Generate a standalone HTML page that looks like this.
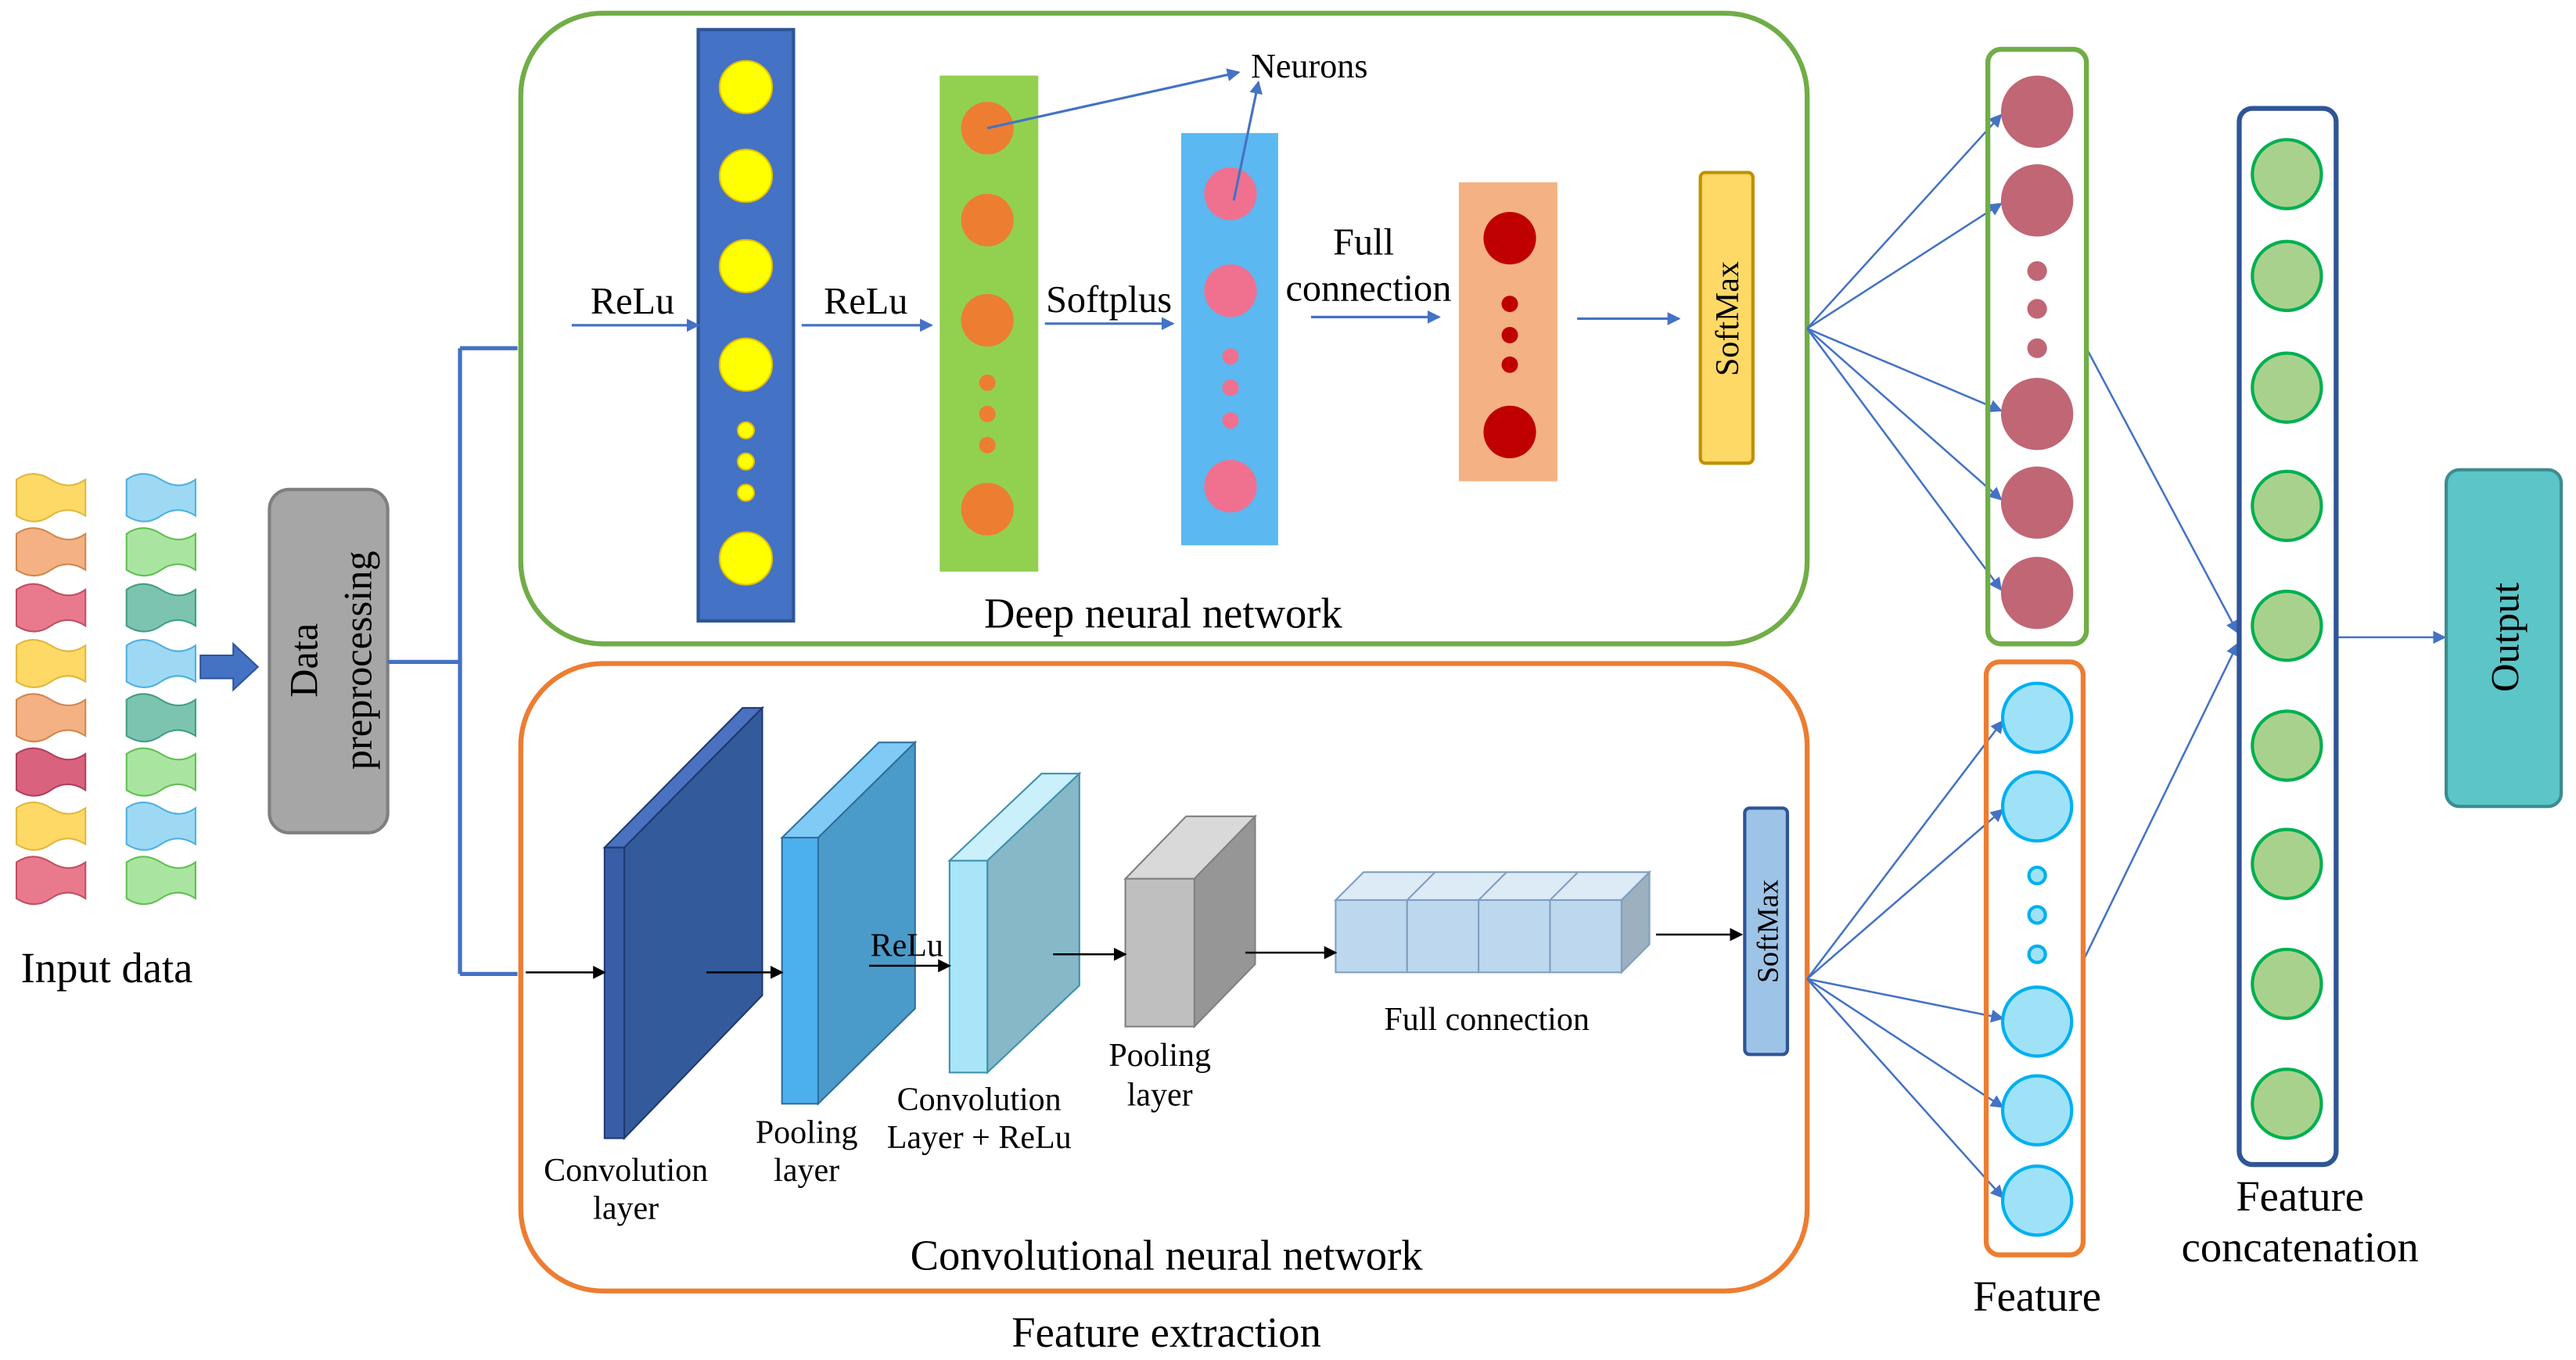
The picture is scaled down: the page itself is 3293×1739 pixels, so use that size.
<!DOCTYPE html>
<html><head><meta charset="utf-8"><style>html,body{margin:0;padding:0;background:#fff}svg{display:block}text{font-family:"Liberation Serif",serif;fill:#000}</style></head>
<body>
<svg width="3293" height="1739" viewBox="0 0 1568 828" xmlns="http://www.w3.org/2000/svg">
<defs>
<marker id="ab" markerWidth="8" markerHeight="8" refX="7" refY="4" orient="auto" markerUnits="userSpaceOnUse"><path d="M0,0 L8,4 L0,8 z" fill="#4472C4"/></marker>
<marker id="ak" markerWidth="8" markerHeight="8" refX="7" refY="4" orient="auto" markerUnits="userSpaceOnUse"><path d="M0,0 L8,4 L0,8 z" fill="#000"/></marker>
<path id="flag" d="M0,4 Q10,-3 21,4 T42,4 L42,26 Q31,19 21,26 T0,26 Z"/>
</defs>
<g stroke-width="1">
<use href="#flag" x="10" y="288" fill="#FFD966" stroke="#E0B840"/>
<use href="#flag" x="10" y="321" fill="#F4B183" stroke="#D08850"/>
<use href="#flag" x="10" y="355" fill="#E97A8E" stroke="#C05060"/>
<use href="#flag" x="10" y="389" fill="#FFD966" stroke="#E0B840"/>
<use href="#flag" x="10" y="422" fill="#F4B183" stroke="#D08850"/>
<use href="#flag" x="10" y="455" fill="#D9637E" stroke="#B04060"/>
<use href="#flag" x="10" y="488" fill="#FFD966" stroke="#E0B840"/>
<use href="#flag" x="10" y="521" fill="#E97A8E" stroke="#C05060"/>
<use href="#flag" x="77" y="288" fill="#9DD9F3" stroke="#50B0E0"/>
<use href="#flag" x="77" y="321" fill="#A9E5A0" stroke="#60C050"/>
<use href="#flag" x="77" y="355" fill="#7DC4B0" stroke="#40A080"/>
<use href="#flag" x="77" y="389" fill="#9DD9F3" stroke="#50B0E0"/>
<use href="#flag" x="77" y="422" fill="#7DC4B0" stroke="#40A080"/>
<use href="#flag" x="77" y="455" fill="#A9E5A0" stroke="#60C050"/>
<use href="#flag" x="77" y="488" fill="#9DD9F3" stroke="#50B0E0"/>
<use href="#flag" x="77" y="521" fill="#A9E5A0" stroke="#60C050"/>
</g>
<text x="65" y="598" font-size="26" text-anchor="middle">Input data</text>
<path d="M122,399 L142,399 L142,392 L157,406 L142,420 L142,413 L122,413 Z" fill="#4472C4" stroke="#2F5597"/>
<rect x="164" y="298" width="72" height="209" rx="12" fill="#A6A6A6" stroke="#7F7F7F" stroke-width="2"/>
<text transform="translate(193,402) rotate(-90)" font-size="24" text-anchor="middle">Data</text>
<text transform="translate(226,402) rotate(-90)" font-size="24" text-anchor="middle">preprocessing</text>
<path d="M236,403 H280 M280,212 V593 M280,212 H315 M280,593 H315" stroke="#4472C4" stroke-width="2.5" fill="none"/>
<rect x="317" y="8" width="783" height="384" rx="50" fill="none" stroke="#70AD47" stroke-width="3"/>
<rect x="425" y="18" width="58" height="360" fill="#4472C4" stroke="#2F5597" stroke-width="2"/>
<g fill="#FFFF00" stroke="#E0C000"><circle cx="454" cy="53" r="16"/><circle cx="454" cy="107" r="16"/><circle cx="454" cy="162" r="16"/><circle cx="454" cy="222" r="16"/><circle cx="454" cy="340" r="16"/><circle cx="454" cy="262" r="5"/><circle cx="454" cy="281" r="5"/><circle cx="454" cy="300" r="5"/></g>
<rect x="572" y="46" width="60" height="302" fill="#92D050"/>
<g fill="#ED7D31"><circle cx="601" cy="78" r="16"/><circle cx="601" cy="134" r="16"/><circle cx="601" cy="195" r="16"/><circle cx="601" cy="310" r="16"/><circle cx="601" cy="233" r="5"/><circle cx="601" cy="252" r="5"/><circle cx="601" cy="271" r="5"/></g>
<rect x="719" y="81" width="59" height="251" fill="#5BB8F0"/>
<g fill="#F07090"><circle cx="749" cy="118" r="16"/><circle cx="749" cy="177" r="16"/><circle cx="749" cy="296" r="16"/><circle cx="749" cy="217" r="5"/><circle cx="749" cy="236" r="5"/><circle cx="749" cy="256" r="5"/></g>
<rect x="888" y="111" width="60" height="182" fill="#F4B183"/>
<g fill="#C00000"><circle cx="919" cy="145" r="16"/><circle cx="919" cy="263" r="16"/><circle cx="919" cy="185" r="5"/><circle cx="919" cy="204" r="5"/><circle cx="919" cy="222" r="5"/></g>
<rect x="1035" y="105" width="32" height="177" rx="3" fill="#FFD966" stroke="#BF9000" stroke-width="2"/>
<text transform="translate(1058,194) rotate(-90)" font-size="20" text-anchor="middle">SoftMax</text>
<g stroke="#4472C4" stroke-width="1.5" marker-end="url(#ab)">
<line x1="348" y1="198" x2="425" y2="198"/><line x1="488" y1="198" x2="567" y2="198"/><line x1="636" y1="197" x2="714" y2="197"/><line x1="798" y1="193" x2="876" y2="193"/><line x1="960" y1="194" x2="1022" y2="194"/>
<line x1="601" y1="78" x2="754" y2="44"/><line x1="751" y1="122" x2="766" y2="50"/>
</g>
<g font-size="23" text-anchor="middle"><text x="385" y="191">ReLu</text><text x="527" y="191">ReLu</text><text x="675" y="190">Softplus</text><text x="830" y="155">Full</text><text x="833" y="183">connection</text><text x="797" y="47" font-size="21">Neurons</text></g>
<text x="708" y="382" font-size="26" text-anchor="middle">Deep neural network</text>
<rect x="317" y="404" width="783" height="382" rx="50" fill="none" stroke="#ED7D31" stroke-width="3"/>
<g stroke="#1F3A70" stroke-width="1">
<polygon points="368,516 452,431 464,431 380,516" fill="#4A72C0"/><polygon points="380,516 464,431 464,606 380,693" fill="#335A9A"/><rect x="368" y="516" width="12" height="177" fill="#3A5DA8"/>
</g>
<g stroke="#2F6F9F" stroke-width="1">
<polygon points="476,510 535,452 557,452 498,510" fill="#7FCBF5"/><polygon points="498,510 557,452 557,614 498,672" fill="#4A9BC9"/><rect x="476" y="510" width="22" height="162" fill="#4DB0EE"/>
</g>
<g stroke="#3F8FAF" stroke-width="1">
<polygon points="578,524 634,471 657,471 601,524" fill="#C9F0FB"/><polygon points="601,524 657,471 657,600 601,653" fill="#86B8C8"/><rect x="578" y="524" width="23" height="129" fill="#A9E5F8"/>
</g>
<g stroke="#808080" stroke-width="1">
<polygon points="685,535 722,497 764,497 727,535" fill="#D9D9D9"/><polygon points="727,535 764,497 764,587 727,625" fill="#969696"/><rect x="685" y="535" width="42" height="90" fill="#BFBFBF"/>
</g>
<g stroke="#7F9FBF" stroke-width="1">
<polygon points="813,548 830,531 1004,531 987,548" fill="#DDEBF7"/><polygon points="987,548 1004,531 1004,575 987,592" fill="#9DB0C0"/>
<rect x="813" y="548" width="43.5" height="44" fill="#BDD7EE"/><rect x="856.5" y="548" width="43.5" height="44" fill="#BDD7EE"/><rect x="900" y="548" width="43.5" height="44" fill="#BDD7EE"/><rect x="943.5" y="548" width="43.5" height="44" fill="#BDD7EE"/>
<path d="M873.5,531 L856.5,548 M917,531 L900,548 M960.5,531 L943.5,548" fill="none"/>
</g>
<rect x="1062" y="492" width="26" height="150" rx="3" fill="#9DC3E6" stroke="#2F5597" stroke-width="2"/>
<text transform="translate(1082,567) rotate(-90)" font-size="18" text-anchor="middle">SoftMax</text>
<g stroke="#000" stroke-width="1.2" marker-end="url(#ak)">
<line x1="320" y1="592" x2="368" y2="592"/><line x1="430" y1="592" x2="476" y2="592"/><line x1="529" y1="588" x2="578" y2="588"/><line x1="641" y1="581" x2="685" y2="581"/><line x1="758" y1="580" x2="813" y2="580"/><line x1="1008" y1="569" x2="1060" y2="569"/>
</g>
<g font-size="20" text-anchor="middle"><text x="381" y="719">Convolution</text><text x="381" y="742">layer</text><text x="491" y="696">Pooling</text><text x="491" y="719">layer</text><text x="596" y="676">Convolution</text><text x="596" y="699">Layer + ReLu</text><text x="706" y="649">Pooling</text><text x="706" y="673">layer</text><text x="905" y="627">Full connection</text><text x="552" y="582">ReLu</text></g>
<text x="710" y="773" font-size="26" text-anchor="middle">Convolutional neural network</text>
<text x="710" y="820" font-size="26" text-anchor="middle">Feature extraction</text>
<g stroke="#4472C4" stroke-width="1.2" marker-end="url(#ab)">
<line x1="1100" y1="200" x2="1218" y2="70"/><line x1="1100" y1="200" x2="1218" y2="124"/><line x1="1100" y1="200" x2="1218" y2="250"/><line x1="1100" y1="200" x2="1218" y2="304"/><line x1="1100" y1="200" x2="1218" y2="359"/>
<line x1="1100" y1="596" x2="1219" y2="439"/><line x1="1100" y1="596" x2="1219" y2="493"/><line x1="1100" y1="596" x2="1219" y2="620"/><line x1="1100" y1="596" x2="1219" y2="674"/><line x1="1100" y1="596" x2="1219" y2="729"/>
<line x1="1270" y1="212" x2="1362" y2="385"/><line x1="1268" y1="585" x2="1362" y2="392"/><line x1="1422" y1="388" x2="1488" y2="388"/>
</g>
<rect x="1210" y="30" width="60" height="362" rx="8" fill="none" stroke="#70AD47" stroke-width="3"/>
<g fill="#C06674"><circle cx="1240" cy="68" r="22"/><circle cx="1240" cy="122" r="22"/><circle cx="1240" cy="252" r="22"/><circle cx="1240" cy="306" r="22"/><circle cx="1240" cy="361" r="22"/><circle cx="1240" cy="165" r="6"/><circle cx="1240" cy="188" r="6"/><circle cx="1240" cy="212" r="6"/></g>
<rect x="1209" y="403" width="59" height="361" rx="8" fill="none" stroke="#ED7D31" stroke-width="3"/>
<g fill="#9FE2F8" stroke="#00B0F0" stroke-width="2"><circle cx="1240" cy="437" r="21"/><circle cx="1240" cy="491" r="21"/><circle cx="1240" cy="622" r="21"/><circle cx="1240" cy="676" r="21"/><circle cx="1240" cy="731" r="21"/><circle cx="1240" cy="533" r="5"/><circle cx="1240" cy="557" r="5"/><circle cx="1240" cy="581" r="5"/></g>
<text x="1240" y="798" font-size="26" text-anchor="middle">Feature</text>
<rect x="1363" y="66" width="59" height="643" rx="8" fill="none" stroke="#2F5597" stroke-width="3"/>
<g fill="#A9D18E" stroke="#00B050" stroke-width="2"><circle cx="1392" cy="106" r="21"/><circle cx="1392" cy="168" r="21"/><circle cx="1392" cy="236" r="21"/><circle cx="1392" cy="308" r="21"/><circle cx="1392" cy="381" r="21"/><circle cx="1392" cy="454" r="21"/><circle cx="1392" cy="526" r="21"/><circle cx="1392" cy="599" r="21"/><circle cx="1392" cy="672" r="21"/></g>
<text x="1400" y="737" font-size="26" text-anchor="middle">Feature</text>
<text x="1400" y="768" font-size="26" text-anchor="middle">concatenation</text>
<rect x="1489" y="286" width="70" height="205" rx="8" fill="#5BC5C8" stroke="#3C8C8F" stroke-width="2"/>
<text transform="translate(1533,388) rotate(-90)" font-size="24" text-anchor="middle">Output</text>
</svg>
</body></html>
